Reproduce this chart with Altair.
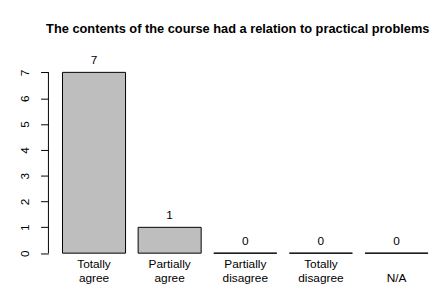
import altair as alt
import pandas as pd

categories = ["Totally agree", "Partially agree", "Partially disagree", "Totally disagree", "N/A"]
counts = [7, 1, 0, 0, 0]
y_ticks = [0, 1, 2, 3, 4, 5, 6, 7]
title_text = "The contents of the course had a relation to practical problems"

df = pd.DataFrame({"cat": categories, "n": counts})

FONT = "Liberation Sans"

xscale = alt.Scale(domain=categories, paddingInner=0.2 / 1.2, paddingOuter=0.1193, align=0.78)
yscale = alt.Scale(domain=[-0.28, 7.28], nice=False, zero=False)

yaxis = alt.Axis(title=None, values=y_ticks, tickCount=8, domain=False, grid=False,
                 tickSize=8, tickColor="black", tickWidth=1, labelOverlap=False,
                 labelAngle=270, labelAlign="center", labelBaseline="alphabetic",
                 labelPadding=12, labelFont=FONT, labelFontSize=12, labelColor="black")

base = alt.Chart(df)

bars = base.mark_bar(fill="#BEBEBE", stroke="black", strokeWidth=1, cornerRadius=0).encode(
    x=alt.X("cat:N", scale=xscale, sort=categories,
            axis=alt.Axis(title=None, domain=False, ticks=False, labelAngle=0,
                          labelFont=FONT, labelFontSize=12, labelColor="black",
                          labelBaseline="top", labelPadding=-2, labelLineHeight=14.5,
                          labelExpr="datum.label == 'N/A' ? ['', 'N/A'] : split(datum.label, ' ')")),
    y=alt.Y("n:Q", scale=yscale, axis=yaxis),
    y2=alt.datum(0),
)

labels = base.mark_text(font=FONT, fontSize=12, color="black", baseline="middle", dy=-12).encode(
    x=alt.X("cat:N", scale=xscale, sort=categories),
    y=alt.Y("n:Q", scale=yscale, axis=yaxis),
    text="n:Q",
)

axis_line = alt.Chart(pd.DataFrame({"a": [0]})).mark_rule(color="black", strokeWidth=1).encode(
    x=alt.value(0),
    y=alt.datum(0, scale=yscale, axis=yaxis),
    y2=alt.datum(7),
)

chart = alt.layer(bars, labels, axis_line).properties(
    width=389, height=198,
    padding={"left": 41, "top": 56, "right": 2, "bottom": 22},
    autosize=alt.AutoSizeParams(type="none"),
    title=alt.TitleParams(title_text, font=FONT, fontSize=13, fontWeight="bold", color="black",
                          anchor="middle", baseline="middle", offset=13, dx=-2.5),
).configure_view(stroke=None)

chart.save("out.html", embed_options={"renderer": "svg", "actions": False})
